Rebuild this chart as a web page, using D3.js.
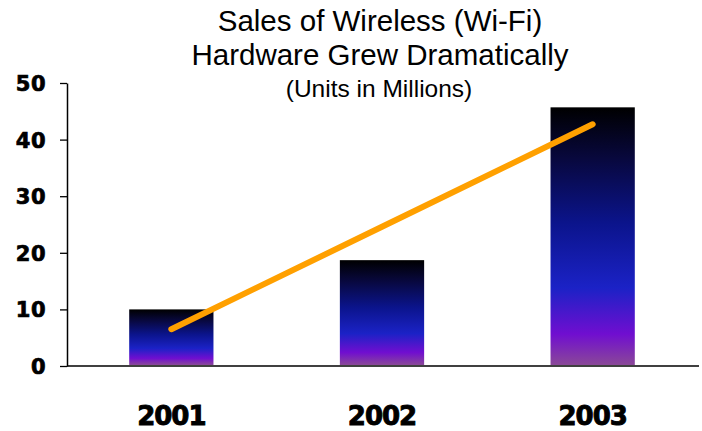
<!DOCTYPE html>
<html>
<head>
<meta charset="utf-8">
<script src="https://cdn.jsdelivr.net/npm/d3@7"></script>
<style>
  html, body { margin: 0; padding: 0; background: #fff; }
  svg { display: block; }
</style>
</head>
<body>
<svg id="chart" width="702" height="431"></svg>
<script>
// Wi-Fi hardware unit sales (millions) with a linear trend line
const years = ["2001", "2002", "2003"];
const unitsSold = [10, 18.7, 45.7];
const trendValues = [6.5, 24.6, 42.7];
const yTicks = [0, 10, 20, 30, 40, 50];
const titleLines = ["Sales of Wireless (Wi-Fi)", "Hardware Grew Dramatically"];
const subtitle = "(Units in Millions)";

const svg = d3.select("#chart");
const plot = { left: 67, right: 699, top: 83, bottom: 366 };

const x = d3.scaleBand()
  .domain(years)
  .range([plot.left - 1, plot.right - 1])
  .paddingInner(0.6)
  .paddingOuter(0.3);

const y = d3.scaleLinear()
  .domain([0, 50])
  .range([plot.bottom, plot.top]);

// Vertical gradient for the bars: black top through navy and blue to purple
const defs = svg.append("defs");
const grad = defs.append("linearGradient")
  .attr("id", "barFill")
  .attr("x1", 0).attr("y1", 0).attr("x2", 0).attr("y2", 1);
[
  [0, "#000000"],
  [0.2, "#08083e"],
  [0.45, "#0b148c"],
  [0.7, "#1b22c6"],
  [0.88, "#700ed0"],
  [1, "#8a4898"]
].forEach(([o, c]) => grad.append("stop").attr("offset", o).attr("stop-color", c));

// Bars
svg.append("g")
  .selectAll("rect")
  .data(years)
  .join("rect")
  .attr("x", d => x(d))
  .attr("width", x.bandwidth())
  .attr("y", (d, i) => y(unitsSold[i]))
  .attr("height", (d, i) => y(0) - 1 - y(unitsSold[i]))
  .attr("fill", "url(#barFill)");

// Trend line
const line = d3.line()
  .x((d, i) => x(years[i]) + x.bandwidth() / 2)
  .y(d => y(d));
svg.append("path")
  .datum(trendValues)
  .attr("d", line)
  .attr("fill", "none")
  .attr("stroke", "#ffa000")
  .attr("stroke-width", 6)
  .attr("stroke-linecap", "round");

// Y axis
const yAxis = svg.append("g")
  .attr("transform", `translate(${plot.left},0)`)
  .call(d3.axisLeft(y).tickValues(yTicks).tickSize(7).tickPadding(14).tickSizeOuter(0));
yAxis.select(".domain").attr("stroke", "#000").attr("stroke-width", 1.5);
yAxis.selectAll(".tick line").attr("stroke", "#000").attr("stroke-width", 1.3);
yAxis.selectAll(".tick text")
  .attr("fill", "#000")
  .attr("stroke", "#000")
  .attr("stroke-width", 0.7)
  .attr("font-family", "'DejaVu Sans', Verdana, sans-serif")
  .attr("font-weight", "bold")
  .attr("font-size", 21)
  .attr("letter-spacing", 0.5)
  .attr("dy", "0.36em");

// X axis baseline and category labels
svg.append("line")
  .attr("x1", plot.left).attr("x2", plot.right)
  .attr("y1", plot.bottom).attr("y2", plot.bottom)
  .attr("stroke", "#000").attr("stroke-width", 1.5);

svg.append("g")
  .selectAll("text")
  .data(years)
  .join("text")
  .attr("x", d => x(d) + x.bandwidth() / 2)
  .attr("y", 425)
  .attr("text-anchor", "middle")
  .attr("font-family", "'DejaVu Sans', Verdana, sans-serif")
  .attr("font-weight", "bold")
  .attr("font-size", 26)
  .attr("letter-spacing", -1)
  .attr("stroke", "#000")
  .attr("stroke-width", 0.9)
  .text(d => d);

// Title
svg.append("g")
  .selectAll("text")
  .data(titleLines)
  .join("text")
  .attr("x", 380)
  .attr("y", (d, i) => 31 + i * 34)
  .attr("text-anchor", "middle")
  .attr("font-family", "'Liberation Sans', Arial, sans-serif")
  .attr("font-size", 29.5)
  .attr("fill", "#000")
  .text(d => d);

svg.append("text")
  .attr("x", 379)
  .attr("y", 97)
  .attr("text-anchor", "middle")
  .attr("font-family", "'Liberation Sans', Arial, sans-serif")
  .attr("font-size", 24.5)
  .attr("fill", "#000")
  .text(subtitle);
</script>
</body>
</html>
